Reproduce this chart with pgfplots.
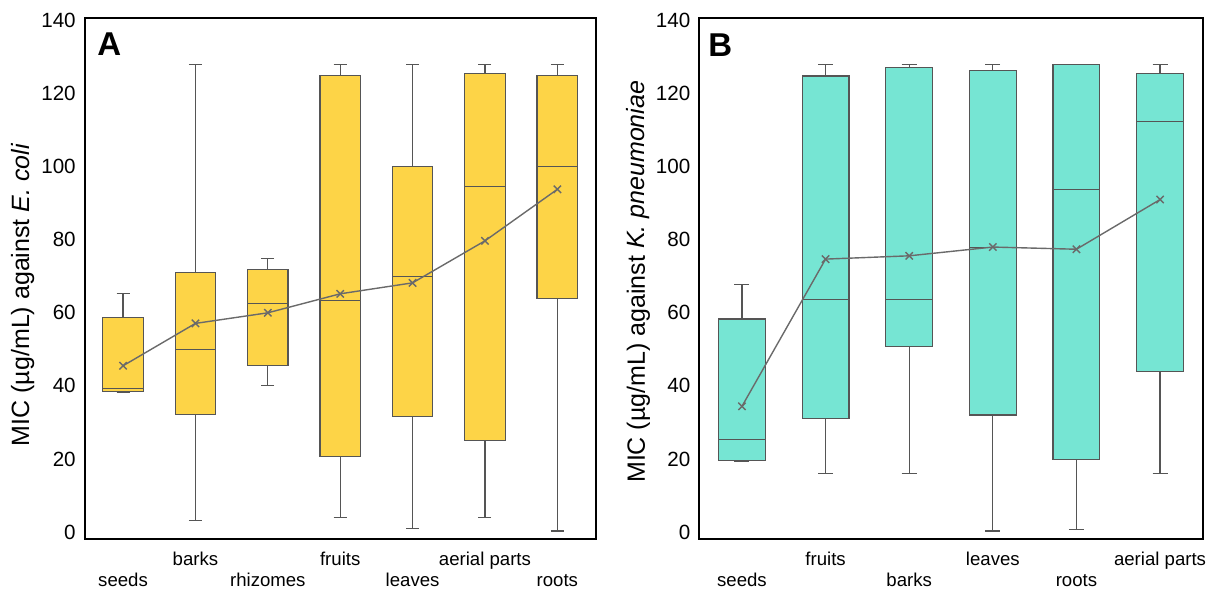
\documentclass[border=0pt]{standalone}
\usepackage{fontspec}
\setmainfont{Liberation Sans}
\usepackage{pgfplots}
\pgfplotsset{compat=1.18}
\usepgfplotslibrary{statistics}
\definecolor{yelA}{HTML}{FDD447}
\definecolor{turB}{HTML}{76E5D3}
\definecolor{boxg}{HTML}{555555}
\definecolor{lineg}{HTML}{6A6A6A}
\pgfplotsset{
  mystyle/.style={
    scale only axis, height=260.65pt,
    ymin=-2, ymax=140.7, ytick={0,20,...,140},
    major tick length=0pt,
    axis line style={line width=0.9pt, black},
    /pgf/number format/assume math mode=true,
    yticklabel style={font=\fontsize{10.3}{12}\selectfont, anchor=east, inner sep=0pt, xshift=-4.3pt},
    xticklabel style={font=\fontsize{9.3}{11}\selectfont, anchor=base, inner sep=0pt, yshift=-12.85pt},
    ylabel style={font=\fontsize{12.5}{14}\selectfont, anchor=base, inner sep=0pt},
    boxplot/draw direction=y,
    boxplot/box extend=0.56,
    boxplot/whisker extend=0.18,
  },
  bx/.style={draw=boxg, line width=0.6pt, solid, fill=#1},
  meanl/.style={color=lineg, line width=0.7pt, mark=x, mark size=2.6pt, mark options={solid}},
}
\newcommand{\bp}[7]{\addplot[bx=#7, boxplot prepared={draw position=#1, lower whisker=#2, lower quartile=#3, median=#4, upper quartile=#5, upper whisker=#6}] coordinates {};}
\begin{document}
\begin{tikzpicture}
\useasboundingbox (0,0) rectangle (607pt,294.5pt);
\begin{axis}[mystyle, at={(42.35pt,24.85pt)}, anchor=south west, width=255.5pt,
  xmin=0.47, xmax=7.53, xtick={1,...,7},
  xticklabels={\raisebox{-10.5pt}{seeds}, barks, \raisebox{-10.5pt}{rhizomes}, fruits, \raisebox{-10.5pt}{leaves}, aerial parts, \raisebox{-10.5pt}{roots}},
  ylabel={MIC (µg/mL) against \textit{E. coli}},
  ylabel style={at={(axis description cs:-0.109,0.469)}},
]
\bp{1}{38.2}{38.4}{39.3}{58.7}{65.2}{yelA}
\bp{2}{3.2}{32.1}{50}{71}{128}{yelA}
\bp{3}{40.1}{45.6}{62.5}{71.8}{74.9}{yelA}
\bp{4}{4}{20.7}{63.4}{124.9}{128}{yelA}
\bp{5}{0.9}{31.6}{70}{100}{128}{yelA}
\bp{6}{4}{25.1}{94.5}{125.5}{128}{yelA}
\bp{7}{0.3}{64}{100}{124.9}{128}{yelA}
\addplot[meanl] coordinates {(1,45.5) (2,57.1) (3,60) (4,65.2) (5,68.2) (6,79.7) (7,93.8)};
\node[anchor=north west, inner sep=0pt, xshift=6.15pt, yshift=-7pt, font=\fontsize{16.5}{18}\selectfont\bfseries] at (rel axis cs:0,1) {A};
\end{axis}
\begin{axis}[mystyle, at={(349.65pt,24.85pt)}, anchor=south west, width=251.7pt,
  xmin=0.49, xmax=6.51, xtick={1,...,6},
  xticklabels={\raisebox{-10.5pt}{seeds}, fruits, \raisebox{-10.5pt}{barks}, leaves, \raisebox{-10.5pt}{roots}, aerial parts},
  ylabel={MIC (µg/mL) against \textit{K. pneumoniae}},
  ylabel style={at={(axis description cs:-0.108,0.494)}},
]
\bp{1}{19.4}{19.6}{25.4}{58.3}{67.8}{turB}
\bp{2}{16.1}{31}{63.7}{124.8}{128}{turB}
\bp{3}{16.1}{50.8}{63.7}{127.1}{128}{turB}
\bp{4}{0.3}{32}{77.8}{126.3}{128}{turB}
\bp{5}{0.6}{19.8}{93.7}{128}{128}{turB}
\bp{6}{16.1}{44}{112.3}{125.5}{128}{turB}
\addplot[meanl] coordinates {(1,34.4) (2,74.7) (3,75.6) (4,78) (5,77.4) (6,91)};
\node[anchor=north west, inner sep=0pt, xshift=4.35pt, yshift=-7.5pt, font=\fontsize{16.5}{18}\selectfont\bfseries] at (rel axis cs:0,1) {B};
\end{axis}
\end{tikzpicture}
\end{document}
